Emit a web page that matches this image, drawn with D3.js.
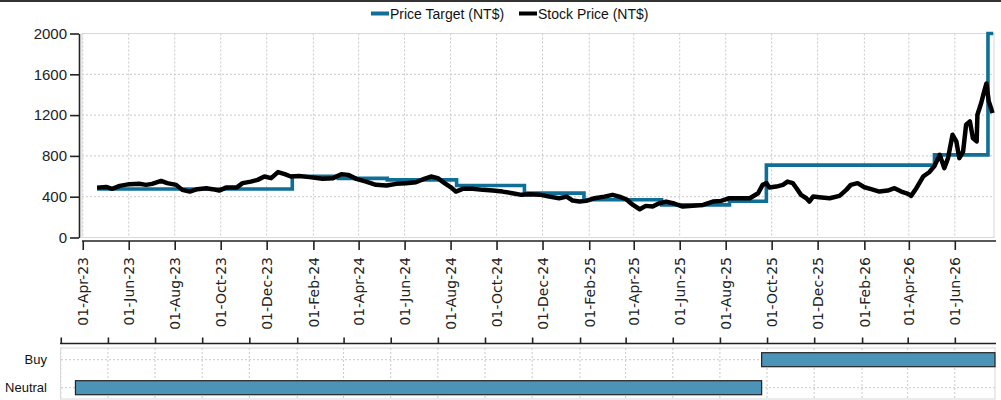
<!doctype html>
<meta charset="utf-8">
<script src="https://cdn.jsdelivr.net/npm/d3@7"></script>
<style>
  body { margin: 0; background: #fff; }
  svg { display: block; }
  .axis path, .axis line { stroke: #222; stroke-width: 1.6; }
  .grid line { stroke: #c8c8c8; stroke-width: 1; stroke-dasharray: 2,2; }
</style>
<body>
<div id="chart"></div>
<script>

// price target steps (date the target was set, NT$)
var priceTarget = [
  ["2023-04-20", 475], ["2024-01-04", 600], ["2024-03-05", 580],
  ["2024-05-09", 565], ["2024-08-09", 510], ["2024-11-07", 435],
  ["2025-01-25", 370], ["2025-05-08", 320], ["2025-08-06", 355],
  ["2025-09-24", 710], ["2026-05-05", 810], ["2026-07-15", 2000],
  ["2026-07-22", 2000]
];

// stock price (NT$)
var stockPrice = [
  ["2023-04-20",489],["2023-05-02",496],["2023-05-10",477],["2023-05-20",506],["2023-06-02",523],
  ["2023-06-15",526],["2023-06-24",516],["2023-07-02",526],["2023-07-14",555],["2023-07-22",533],
  ["2023-08-03",516],["2023-08-11",467],["2023-08-21",450],["2023-08-31",474],["2023-09-12",483],
  ["2023-09-20",474],["2023-09-29",460],["2023-10-08",489],["2023-10-22",489],["2023-10-30",533],
  ["2023-11-10",548],["2023-11-19",565],["2023-11-28",598],["2023-12-07",582],["2023-12-16",641],
  ["2023-12-25",621],["2024-01-02",598],["2024-01-13",604],["2024-01-27",592],["2024-02-13",575],
  ["2024-02-27",582],["2024-03-09",621],["2024-03-18",614],["2024-03-29",575],["2024-04-11",548],
  ["2024-04-24",516],["2024-05-08",510],["2024-05-21",526],["2024-06-03",533],["2024-06-16",542],
  ["2024-06-27",575],["2024-07-06",598],["2024-07-15",582],["2024-07-24",533],["2024-08-02",489],
  ["2024-08-08",450],["2024-08-17",477],["2024-08-30",477],["2024-09-13",467],["2024-09-26",460],
  ["2024-10-09",450],["2024-10-22",434],["2024-11-03",418],["2024-11-14",425],["2024-11-27",420],
  ["2024-12-10",401],["2024-12-23",385],["2025-01-02",401],["2025-01-10",362],["2025-01-19",352],
  ["2025-01-28",359],["2025-02-08",385],["2025-02-21",401],["2025-03-04",418],["2025-03-13",401],
  ["2025-03-22",375],["2025-03-31",319],["2025-04-09",277],["2025-04-17",310],["2025-04-26",303],
  ["2025-05-05",336],["2025-05-14",352],["2025-05-23",336],["2025-06-05",303],["2025-06-18",310],
  ["2025-07-02",319],["2025-07-15",352],["2025-07-26",359],["2025-08-06",385],["2025-08-19",385],
  ["2025-09-02",385],["2025-09-13",434],["2025-09-19",516],["2025-09-24",533],["2025-09-28",490],
  ["2025-10-07",499],["2025-10-16",516],["2025-10-22",548],["2025-10-29",533],["2025-11-03",483],
  ["2025-11-09",418],["2025-11-16",385],["2025-11-20",352],["2025-11-25",401],["2025-12-03",395],
  ["2025-12-17",385],["2025-12-30",408],["2026-01-08",467],["2026-01-14",516],["2026-01-23",533],
  ["2026-02-01",493],["2026-02-10",474],["2026-02-21",450],["2026-03-04",460],["2026-03-13",483],
  ["2026-03-22",450],["2026-03-31",428],["2026-04-04",408],["2026-04-11",483],["2026-04-20",598],
  ["2026-04-28",640],["2026-05-05",700],["2026-05-12",811],["2026-05-18",680],["2026-05-23",778],
  ["2026-05-29",1007],["2026-06-03",942],["2026-06-07",778],["2026-06-12",843],["2026-06-16",1106],
  ["2026-06-21",1138],["2026-06-25",975],["2026-06-30",942],["2026-07-01",1204],["2026-07-06",1319],
  ["2026-07-10",1433],["2026-07-13",1510],["2026-07-16",1335],["2026-07-19",1270],["2026-07-21",1220]
];

// rating periods
var ratingCategories = ["Buy", "Neutral"];
var ratings = [
  {rating: "Neutral", from: "2023-04-20", to: "2025-09-24"},
  {rating: "Buy", from: "2025-09-24", to: "2026-07-23"}
];

var xDomain = ["2023-03-31", "2026-07-23"];
var yTicks = [0, 400, 800, 1200, 1600, 2000];
var legendItems = [
  {label: "Price Target (NT$)", color: "#0f6f97"},
  {label: "Stock Price (NT$)", color: "#000"}
];

var parse = d3.utcParse("%Y-%m-%d");
var width = 1001, height = 400;

var svg = d3.select("#chart").append("svg")
  .attr("width", width).attr("height", height);

// thin rule at the very top
svg.append("line")
  .attr("x1", 0).attr("x2", width).attr("y1", 1).attr("y2", 1)
  .attr("stroke", "#333").attr("stroke-width", 2);

// ---- main panel
var x = d3.scaleUtc().domain(xDomain.map(parse)).range([82, 994]);
var y = d3.scaleLinear().domain([0, 2000]).range([237.5, 33.5]);
var xTicks = d3.utcMonth.range(parse("2023-04-01"), parse("2026-07-01"), 2);

var grid = svg.append("g").attr("class", "grid");
grid.selectAll(".gx").data(xTicks).enter().append("line")
  .attr("x1", d => x(d)).attr("x2", d => x(d))
  .attr("y1", y(2000)).attr("y2", y(0));
grid.selectAll(".gy").data(yTicks).enter().append("line")
  .attr("x1", x.range()[0]).attr("x2", x.range()[1])
  .attr("y1", d => y(d)).attr("y2", d => y(d));

svg.append("rect")
  .attr("x", 82).attr("y", 33.5).attr("width", 912).attr("height", 204)
  .attr("fill", "none").attr("stroke", "#d8d8d8");

var stepLine = d3.line()
  .x(d => x(parse(d[0]))).y(d => y(d[1]))
  .curve(d3.curveStepAfter);

svg.append("path").datum(priceTarget)
  .attr("d", stepLine)
  .attr("fill", "none").attr("stroke", "#0f6f97").attr("stroke-width", 3.6);

var priceLine = d3.line()
  .x(d => x(parse(d[0]))).y(d => y(d[1]));

svg.append("path").datum(stockPrice)
  .attr("d", priceLine)
  .attr("fill", "none").attr("stroke", "#000").attr("stroke-width", 4.5)
  .attr("stroke-linejoin", "round");

// y axis
var yAxis = svg.append("g").attr("class", "axis")
  .attr("transform", "translate(79,0)")
  .call(d3.axisLeft(y).tickValues(yTicks).tickFormat(d3.format("d"))
    .tickSize(9).tickSizeOuter(0).tickPadding(3));
yAxis.selectAll("text")
  .style("font-family", "Liberation Sans, Arial, sans-serif")
  .style("font-size", "15px").attr("fill", "#222");

// x axis
var xAxis = svg.append("g").attr("class", "axis")
  .attr("transform", "translate(0,241)")
  .call(d3.axisBottom(x).tickValues(xTicks).tickFormat(d3.utcFormat("%d-%b-%y"))
    .tickSize(9).tickSizeOuter(0));
xAxis.select(".domain").attr("d", "M82,0H996");
xAxis.selectAll("text")
  .attr("transform", "rotate(-90)")
  .attr("x", -16).attr("y", 0).attr("dy", "0.35em")
  .style("text-anchor", "end")
  .style("font-family", "DejaVu Sans, sans-serif")
  .style("font-size", "14px").attr("fill", "#222");

// legend
var legend = svg.append("g").style("font-family", "Liberation Sans, Arial, sans-serif")
  .style("font-size", "14px");
var legendX = [371, 519];
legendItems.forEach(function(item, i) {
  legend.append("line")
    .attr("x1", legendX[i]).attr("x2", legendX[i] + 18)
    .attr("y1", 13.5).attr("y2", 13.5)
    .attr("stroke", item.color).attr("stroke-width", 4);
  legend.append("text")
    .attr("x", legendX[i] + 19).attr("y", 18.5)
    .attr("fill", "#111").text(item.label);
});

// ---- rating panel
var xb = d3.scaleUtc().domain(xDomain.map(parse)).range([60, 995]);
var yb = d3.scalePoint().domain(ratingCategories).range([345.7, 401.7]).padding(0.5);

var bAxis = svg.append("g").attr("class", "axis")
  .attr("transform", "translate(0,343.5)")
  .call(d3.axisTop(xb).tickValues(xTicks).tickFormat("").tickSize(6).tickSizeOuter(0));
bAxis.select(".domain").attr("d", "M60,0H996");

var bgrid = svg.append("g").attr("class", "grid");
bgrid.selectAll(".bx").data(xTicks).enter().append("line")
  .attr("x1", d => xb(d)).attr("x2", d => xb(d))
  .attr("y1", 348).attr("y2", 399);
bgrid.selectAll(".by").data(ratingCategories).enter().append("line")
  .attr("x1", 61).attr("x2", 995)
  .attr("y1", d => yb(d)).attr("y2", d => yb(d));

svg.append("rect")
  .attr("x", 60.5).attr("y", 348).attr("width", 934.5).attr("height", 51)
  .attr("fill", "none").attr("stroke", "#d8d8d8");

svg.selectAll(".bar").data(ratings).enter().append("rect")
  .attr("x", d => xb(parse(d.from)))
  .attr("width", d => xb(parse(d.to)) - xb(parse(d.from)))
  .attr("y", d => yb(d.rating) - 7)
  .attr("height", 14)
  .attr("fill", "#4b93b7").attr("stroke", "#222").attr("stroke-width", 1.2);

svg.selectAll(".rlabel").data(ratingCategories).enter().append("text")
  .attr("x", 47).attr("y", d => yb(d)).attr("dy", "0.35em")
  .attr("text-anchor", "end")
  .style("font-family", "Liberation Sans, Arial, sans-serif")
  .style("font-size", "13px").attr("fill", "#111")
  .text(d => d);

</script>
